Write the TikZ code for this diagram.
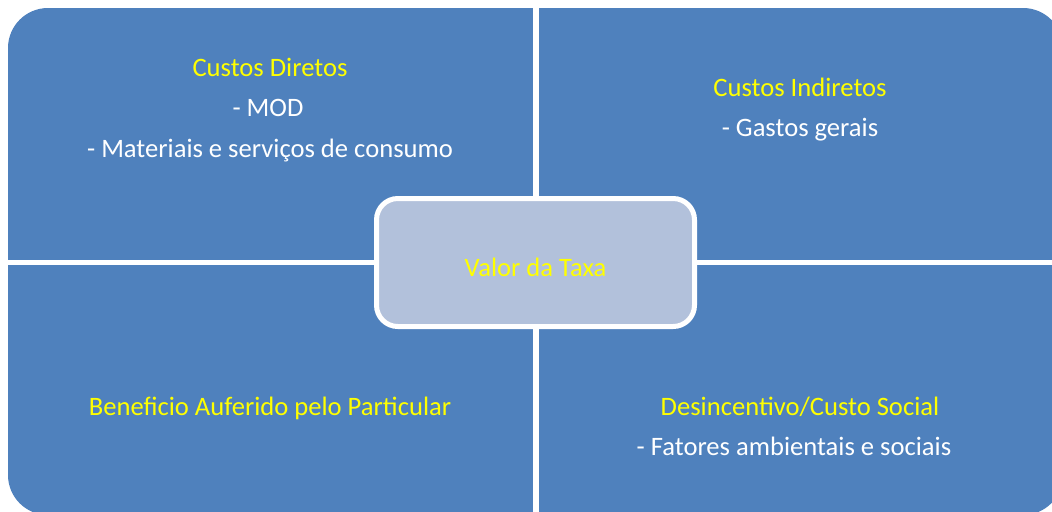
\documentclass[tikz,border=0pt]{standalone}
\usepackage{fontspec}
\setmainfont{Carlito}
\definecolor{quadblue}{HTML}{4F81BD}
\definecolor{centerfill}{HTML}{B2C1DB}
\definecolor{titleyellow}{HTML}{FFFF00}
\begin{document}
\begin{tikzpicture}[x=0.75pt,y=-0.75pt,
  title/.style={anchor=base,text=titleyellow,font=\fontsize{19.95pt}{23pt}\selectfont,inner sep=0pt},
  item/.style={anchor=base,text=white,font=\fontsize{19.95pt}{23pt}\selectfont,inner sep=0pt},
  centerbox/.style={draw=white,line width=3.75pt,fill=centerfill,rounded corners=16pt,
    minimum width=238.5pt,minimum height=96pt,inner sep=0pt}]
\useasboundingbox (0,0) rectangle (1052,511);
\clip (0,0) rectangle (1052,511);
\fill[white] (0,0) rectangle (1052,511);
% outer quadrant block
\fill[quadblue,rounded corners=30pt] (8,8) rectangle (1063,515);
% white dividers
\fill[white] (533,0) rectangle (539,520);
\fill[white] (0,260) rectangle (1070,265);
% centre box
\node[centerbox] (centre) at (535.5,262.5) {};
\node[title] (valor) at (535.5,276) {Valor da Taxa};
% top left
\node[title] (cd) at (270,76) {Custos Diretos};
\node[item] (mod) at (268,116.5) {- MOD};
\node[item] (mat) at (270,157) {- Materiais e serviços de consumo};
% top right
\node[title] (ci) at (800,96) {Custos Indiretos};
\node[item] (gg) at (800,136.5) {- Gastos gerais};
% bottom left
\node[title] (ben) at (270,415) {Beneficio Auferido pelo Particular};
% bottom right
\node[title] (des) at (800,415) {Desincentivo/Custo Social};
\node[item] (fat) at (794,455.5) {- Fatores ambientais e sociais};
\end{tikzpicture}
\end{document}
